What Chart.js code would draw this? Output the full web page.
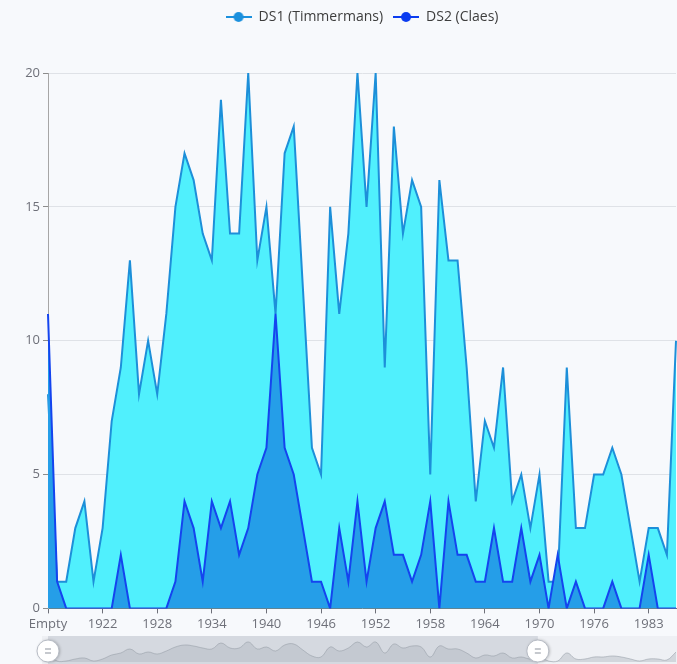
<!DOCTYPE html>
<html>
<head>
<meta charset="utf-8">
<script src="https://cdn.jsdelivr.net/npm/chart.js@4.4.1/dist/chart.umd.min.js"></script>
<style>
  html, body { margin: 0; padding: 0; background: #f7f9fc; overflow: hidden; }
  #wrap { position: relative; width: 677px; height: 664px; overflow: hidden; }
  #main { position: absolute; left: 0; top: 0; }
  #slider { position: absolute; left: 0; top: 632px; }
</style>
</head>
<body>
<div id="wrap">
  <canvas id="main" width="677" height="635"></canvas>
  <canvas id="slider" width="677" height="50"></canvas>
</div>
<script>

// =========================
// DATA
// =========================

const years = [
  'Empty', '1917', '1918', '1919', '1920', '1921',
  '1922', '1923', '1924', '1925', '1926', '1927', '1928', '1929', '1930', '1931',
  '1932', '1933', '1934', '1935', '1936', '1937', '1938', '1939', '1940', '1941',
  '1942', '1943', '1944', '1945', '1946', '1947', '1948', '1949', '1950', '1951',
  '1952', '1953', '1954', '1955', '1956', '1957', '1958', '1959', '1960', '1961',
  '1962', '1963', '1964', '1965', '1966', '1967', '1968', '1969', '1970', '1971',
  '1972', '1973', '1974', '1975', '1976', '1977', '1978', '1979', '1981', '1982',
  '1983', '1984', '1985', '1986'
];

const shownYears = [
  'Empty', '1922', '1928', '1934', '1940', '1946',
  '1952', '1958', '1964', '1970', '1976', '1983'
];

const timmermans = [
  8, 1, 1, 3, 4, 1, 3, 7, 9, 13,
  8, 10, 8, 11, 15, 17, 16, 14, 13, 19,
  14, 14, 20, 13, 15, 11, 17, 18, 12, 6,
  5, 15, 11, 14, 20, 15, 20, 9, 18, 14,
  16, 15, 5, 16, 13, 13, 9, 4, 7, 6,
  9, 4, 5, 3, 5, 1, 1, 9, 3, 3,
  5, 5, 6, 5, 3, 1, 3, 3, 2, 10
];

const claes = [
  11, 1, 0, 0, 0, 0, 0, 0, 2, 0,
  0, 0, 0, 0, 1, 4, 3, 1, 4, 3,
  4, 2, 3, 5, 6, 11, 6, 5, 3, 1,
  1, 0, 3, 1, 4, 1, 3, 4, 2, 2,
  1, 2, 4, 0, 4, 2, 2, 1, 1, 3,
  1, 1, 3, 1, 2, 0, 2, 0, 1, 0,
  0, 0, 1, 0, 0, 0, 2, 0, 0, 0
];

const yTicks = [0, 5, 10, 15, 20];

// slider window, percent of the range
const zoomRange = [0, 78];


// =========================
// LEGEND MARKERS
// =========================

function makeMarker(color) {

  const c = document.createElement('canvas');
  c.width = 26;
  c.height = 12;

  const g = c.getContext('2d');

  g.strokeStyle = color;
  g.lineWidth = 2;
  g.beginPath();
  g.moveTo(0, 6);
  g.lineTo(26, 6);
  g.stroke();

  g.fillStyle = color;
  g.beginPath();
  g.arc(13, 6, 5, 0, Math.PI * 2);
  g.fill();

  return c;
}

const markers = [
  makeMarker('#1b90dd'),
  makeMarker('#0b3cf0')
];

const FONT = "'Open Sans', 'Noto Sans', sans-serif";

// taller legend box so the plot starts lower
const legendGap = {

  id: 'legendGap',

  beforeInit(chart) {

    const fit = chart.legend.fit;

    chart.legend.fit = function () {
      fit.call(this);
      this.height = 73;
    };
  }
};


// =========================
// MAIN CHART
// =========================

new Chart(document.getElementById('main'), {

  type: 'line',

  data: {

    labels: years,

    datasets: [{

      label: 'DS1 (Timmermans)',

      data: timmermans,

      borderColor: '#1d8fd9',

      backgroundColor: '#50f0fd',

      fill: 'origin',

      borderWidth: 2,

      pointRadius: 0,

      tension: 0,

      order: 2
    }, {

      label: 'DS2 (Claes)',

      data: claes,

      borderColor: '#1444ef',

      backgroundColor: '#259ee8',

      fill: 'origin',

      borderWidth: 2,

      pointRadius: 0,

      tension: 0,

      order: 1
    }]
  },

  options: {

    responsive: false,

    devicePixelRatio: 1,

    animation: false,

    layout: {
      padding: { left: 0, right: 1, top: 0, bottom: 0 }
    },

    plugins: {

      legend: {

        position: 'top',

        fullSize: false,

        labels: {

          usePointStyle: true,

          pointStyleWidth: 26,

          padding: 10,

          color: '#3d3d3d',

          font: { family: FONT, size: 14 },

          sort: (a, b) => a.datasetIndex - b.datasetIndex,

          generateLabels(chart) {

            const items =
              Chart.defaults.plugins.legend.labels.generateLabels(chart);

            items.forEach(item => {
              item.pointStyle = markers[item.datasetIndex];
            });

            return items;
          }
        }
      },

      tooltip: { enabled: false }
    },

    scales: {

      x: {

        offset: false,

        grid: {
          display: true,
          drawOnChartArea: false,
          drawTicks: true,
          tickLength: 5,
          tickColor: '#6e7079'
        },

        border: { color: '#6e7079', width: 1 },

        ticks: {

          autoSkip: false,

          maxRotation: 0,

          padding: 3,

          color: '#6e7079',

          font: { family: FONT, size: 13 },

          callback(value) {
            const name = this.getLabelForValue(value);
            return shownYears.includes(name) ? name : null;
          }
        }
      },

      y: {

        min: 0,

        max: 20,

        afterFit(scale) {
          scale.width = 48;
        },

        afterBuildTicks(scale) {
          scale.ticks = yTicks.map(v => ({ value: v }));
        },

        grid: {
          color: '#dfe2e7',
          tickLength: 5,
          tickColor: '#8c8c8c'
        },

        border: { color: '#a6a6a6', width: 1 },

        ticks: {
          padding: 3,
          color: '#6e7079',
          font: { family: FONT, size: 13 }
        }
      }
    }
  },

  plugins: [legendGap]
});


// =========================
// SLIDER
// =========================

const sliderDecor = {

  id: 'sliderDecor',

  beforeDatasetsDraw(chart) {

    const { ctx, chartArea: a } = chart;

    const x0 = a.left + (a.right - a.left) * zoomRange[0] / 100;
    const x1 = a.left + (a.right - a.left) * zoomRange[1] / 100;

    ctx.save();

    ctx.fillStyle = '#eef0f4';
    ctx.fillRect(a.left - 6, a.top - 4, a.right - a.left + 12, chart.height);

    ctx.fillStyle = '#d5d9e0';
    ctx.fillRect(x0, a.top - 4, x1 - x0, chart.height);

    ctx.restore();
  },

  afterDraw(chart) {

    const { ctx, chartArea: a } = chart;

    zoomRange.forEach(p => {

      const x = a.left + (a.right - a.left) * p / 100;
      const y = a.top + 11;

      ctx.save();

      ctx.shadowColor = 'rgba(0,0,0,0.25)';
      ctx.shadowBlur = 3;
      ctx.shadowOffsetX = 1;
      ctx.fillStyle = '#ffffff';
      ctx.beginPath();
      ctx.arc(x, y, 11, 0, Math.PI * 2);
      ctx.fill();

      ctx.shadowColor = 'transparent';
      ctx.strokeStyle = '#b7bcc5';
      ctx.lineWidth = 1;
      ctx.stroke();

      ctx.strokeStyle = '#8d939d';
      ctx.beginPath();
      ctx.moveTo(x - 3, y - 2);
      ctx.lineTo(x + 3, y - 2);
      ctx.moveTo(x - 3, y + 2);
      ctx.lineTo(x + 3, y + 2);
      ctx.stroke();

      ctx.restore();
    });
  }
};

new Chart(document.getElementById('slider'), {

  type: 'line',

  data: {

    labels: years,

    datasets: [{

      data: timmermans,

      borderColor: 'rgba(150,156,166,0.55)',

      backgroundColor: 'rgba(175,181,190,0.45)',

      fill: 'origin',

      borderWidth: 1,

      pointRadius: 0,

      tension: 0.4
    }]
  },

  options: {

    responsive: false,

    devicePixelRatio: 1,

    animation: false,

    layout: {
      padding: { left: 48, right: 1, top: 8, bottom: 0 }
    },

    plugins: {
      legend: { display: false },
      tooltip: { enabled: false }
    },

    scales: {

      x: { display: false, offset: false },

      y: { display: false, min: -20, max: 22 }
    }
  },

  plugins: [sliderDecor]
});

</script>
</body>
</html>
